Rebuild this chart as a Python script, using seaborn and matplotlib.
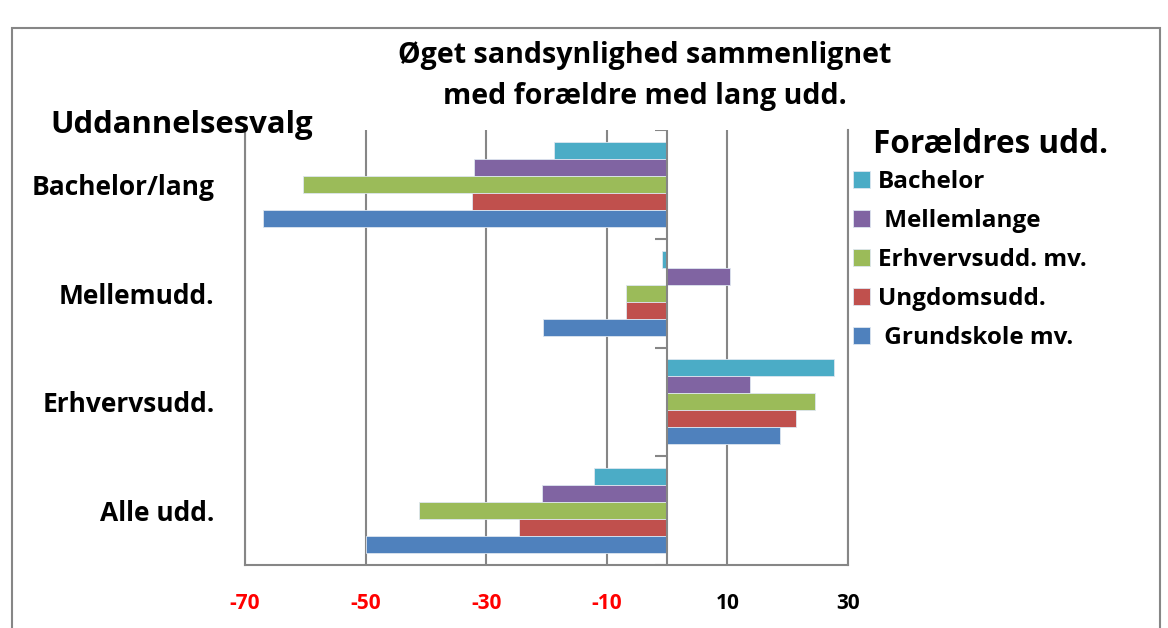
import matplotlib
matplotlib.use("Agg")
import matplotlib.pyplot as plt
import seaborn as sns
import pandas as pd

# uddannelsesvalg (y-kategorier), top til bund
kategorier = ["Bachelor/lang", "Mellemudd.", "Erhvervsudd.", "Alle udd."]
# forældres uddannelse (hue), top til bund i hver gruppe
foraeldre = ["Bachelor", " Mellemlange", "Erhvervsudd. mv.", "Ungdomsudd.", " Grundskole mv."]

bachelor = [-18.7, -0.8, 27.6, -12.1]
mellemlange = [-32.0, 10.5, 13.8, -20.7]
erhvervsudd = [-60.4, -6.8, 24.6, -41.2]
ungdomsudd = [-32.3, -6.8, 21.3, -24.6]
grundskole = [-67.0, -20.6, 18.8, -50.0]

xticks = [-70, -50, -30, -10, 10, 30]
farver = ["#4BACC6", "#8064A2", "#9BBB59", "#C0504D", "#4F81BD"]

rows = []
for navn, vals in zip(foraeldre, [bachelor, mellemlange, erhvervsudd, ungdomsudd, grundskole]):
    for kat, v in zip(kategorier, vals):
        rows.append({"kategori": kat, "foraeldre": navn, "vaerdi": v})
df = pd.DataFrame(rows)

sns.set_style("white")
plt.rcParams["font.family"] = ["Open Sans", "DejaVu Sans"]
plt.rcParams["font.weight"] = "bold"
plt.rcParams["text.color"] = "black"
plt.rcParams["xtick.labelcolor"] = "black"
plt.rcParams["ytick.labelcolor"] = "black"

W, H = 1168, 628
fig = plt.figure(figsize=(W / 100, H / 100), dpi=100)
ax = fig.add_axes([245 / W, 1 - 565 / H, (848 - 245) / W, (565 - 130) / H])

sns.barplot(data=df, y="kategori", x="vaerdi", hue="foraeldre", order=kategorier,
            hue_order=foraeldre, palette=farver, orient="h", width=0.78,
            saturation=1, edgecolor="#dde6f0", linewidth=0.6, ax=ax)

grid_c = "#868686"
ax.set_xlim(-70, 30)
ax.set_xticks(xticks)
ax.set_xticklabels([str(t) for t in xticks], fontsize=15, fontweight="bold")
for lbl, t in zip(ax.get_xticklabels(), xticks):
    lbl.set_color("red" if t < 0 else "black")
ax.xaxis.grid(True, color=grid_c, lw=1.5)
ax.set_axisbelow(True)
ax.tick_params(axis="x", direction="out", length=6, color=grid_c, width=1.5, pad=14)
ax.tick_params(axis="y", length=0, pad=22)
ax.set_yticklabels(kategorier, fontsize=19, fontweight="bold", color="black")
ax.set_xlabel("")
ax.set_ylabel("")
ax.set_ylim(len(kategorier) - 0.5, -0.5)

for side in ["left", "right", "bottom"]:
    ax.spines[side].set_color(grid_c)
    ax.spines[side].set_linewidth(1.5)
ax.spines["top"].set_visible(False)

# kategoriakse ved 0 med små streger mellem grupperne
ax.axvline(0, color=grid_c, lw=1.5, zorder=3)
ax.hlines([i - 0.5 for i in range(len(kategorier) + 1)], -2, 0, color=grid_c, lw=1.5, zorder=3)

handles, labels = ax.get_legend_handles_labels()
leg = ax.legend(handles, labels, loc="upper left", bbox_to_anchor=(853 / W, 1 - 170 / H),
                bbox_transform=fig.transFigure, frameon=False,
                prop={"weight": "bold", "size": 17.5}, handlelength=0.7, handleheight=0.7,
                handletextpad=0.32, labelspacing=0.62, borderaxespad=0, borderpad=0)
for t in leg.get_texts():
    t.set_color("black")

fig.text(645 / W, 1 - 63 / H, "Øget sandsynlighed sammenlignet", ha="center",
         va="baseline", fontsize=20.6, fontweight="bold")
fig.text(645 / W, 1 - 104 / H, "med forældre med lang udd.", ha="center",
         va="baseline", fontsize=20.6, fontweight="bold")
fig.text(50 / W, 1 - 133 / H, "Uddannelsesvalg", ha="left", va="baseline",
         fontsize=22.4, fontweight="bold")
fig.text(873 / W, 1 - 153 / H, "Forældres udd.", ha="left", va="baseline",
         fontsize=22.7, fontweight="bold")

# ramme rundt om diagrammet
fig.add_artist(plt.Rectangle((12 / W, -0.1), (1160 - 12) / W, 1.1 - 28 / H,
                             transform=fig.transFigure, fill=False, edgecolor=grid_c, lw=1.5))

fig.savefig("out.png", dpi=100)
